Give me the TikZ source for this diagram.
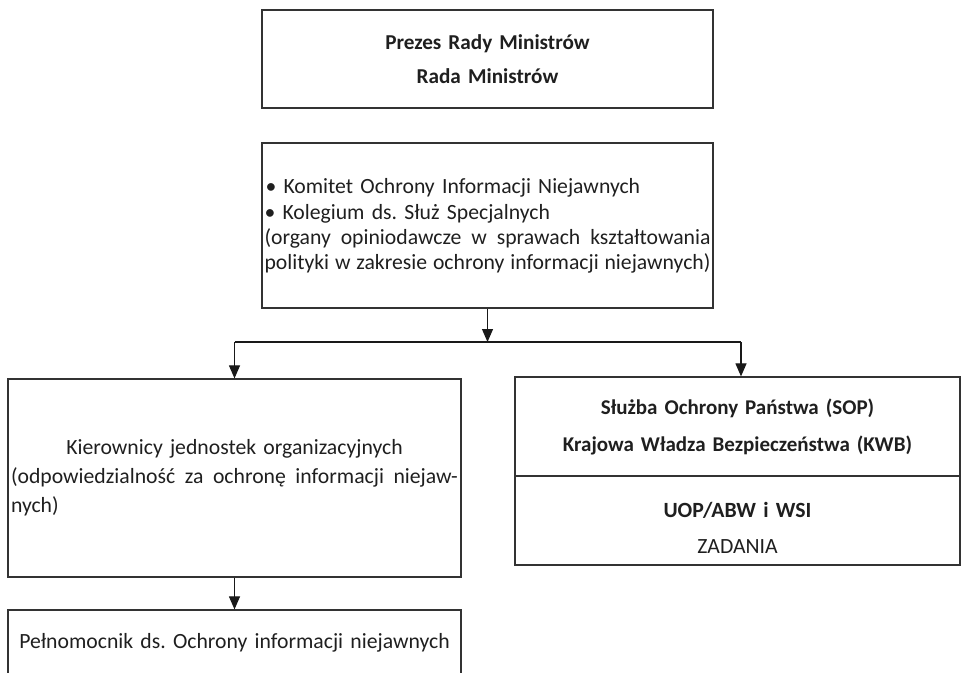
\documentclass[tikz,border=0pt]{standalone}
\usepackage{fontspec}
\setmainfont{Carlito}
\usetikzlibrary{arrows.meta}
\frenchspacing
\newcommand\jline[1]{\makebox[\linewidth][s]{\spaceskip=\fontdimen2\font plus 1fil\relax #1}}
\begin{document}
\begin{tikzpicture}[x=1pt,y=-1pt,
  box/.style={draw=black!80, line width=1.2pt, rectangle, inner sep=0pt, text=black!88},
  conn/.style={draw=black!90, line width=1.1pt},
  arr/.style={conn, -{Triangle[length=13pt,width=11pt]}},
]
\useasboundingbox (0,0) rectangle (961,672);
% top box
\node[box, minimum width=451pt, minimum height=98pt, text width=440pt, align=center,
      font=\bfseries\fontsize{21.2}{34}\selectfont] (rm) at (487.5,59)
      {Prezes Rady Ministrów\\Rada Ministrów};
% committees
\node[box, minimum width=451pt, minimum height=165pt, text width=446pt, align=left,
      font=\fontsize{21.7}{25}\selectfont] (kom) at (487.5,225.5)
      {\kern1pt• Komitet Ochrony Informacji Niejawnych\\
       \kern1pt• Kolegium ds. Służ Specjalnych\\
       \jline{(organy opiniodawcze w sprawach kształtowania}\\
       \jline{polityki w zakresie ochrony informacji niejawnych)}};
% left box
\node[box, minimum width=453pt, minimum height=198pt, text width=447pt, align=left,
      font=\fontsize{21.7}{29}\selectfont] (kier) at (234.5,478)
      {\makebox[\linewidth][c]{Kierownicy jednostek organizacyjnych}\\
       \jline{(odpowiedzialność za ochronę informacji niejaw-}\\
       nych)};
% bottom box (cut by the page edge)
\node[box, minimum width=453pt, minimum height=66pt, text width=445pt, align=center,
      font=\fontsize{21.7}{25}\selectfont] (pel) at (234.5,643)
      {Pełnomocnik ds. Ochrony informacji niejawnych};
% right box, upper part
\node[box, minimum width=445pt, minimum height=99pt, text width=435pt, align=center,
      font=\bfseries\fontsize{21}{37}\selectfont] (sop) at (737.5,426.5)
      {Służba Ochrony Państwa (SOP)\\Krajowa Władza Bezpieczeństwa (KWB)};
% right box, lower part
\node[box, minimum width=445pt, minimum height=89pt, text width=435pt, align=center,
      font=\fontsize{21.7}{36}\selectfont] (uop) at (737.5,520.5)
      {\rule{0pt}{29pt}\textbf{UOP/ABW i WSI}\\ZADANIA};
% connectors
\coordinate (jl) at (234.5,342);
\coordinate (jr) at (741,342);
\draw[arr] (kom.south) -- (kom.south |- jl);
\draw[conn] (jl) -- (jr);
\draw[arr] (jl) -- (kier.north);
\draw[arr] (jr) -- (jr |- sop.north);
\draw[arr] (kier.south) -- (pel.north);
\end{tikzpicture}
\end{document}
